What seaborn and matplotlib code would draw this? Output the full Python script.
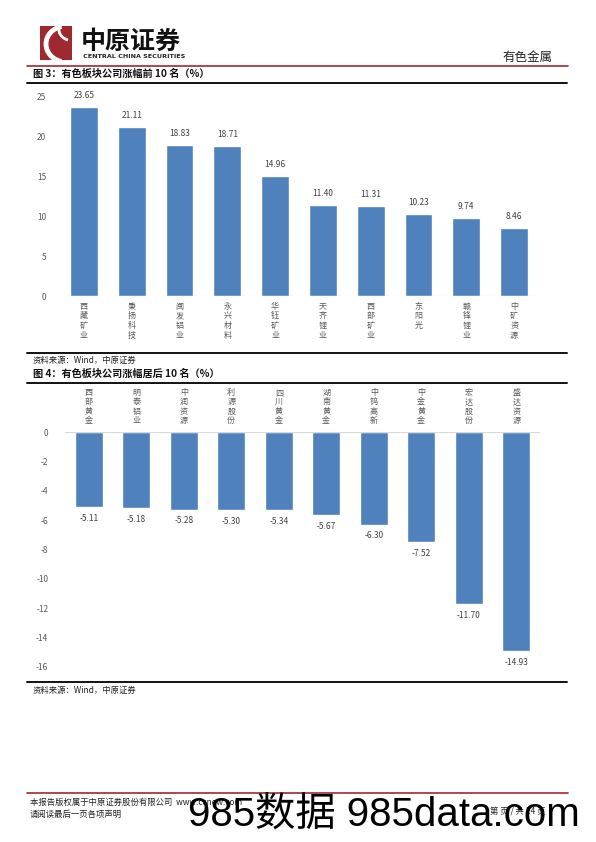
import matplotlib
matplotlib.use("Agg")
import matplotlib.pyplot as plt
import matplotlib.patches as mpatches
import seaborn as sns

sns.set_theme(style="white")
plt.rcParams["font.family"] = ["Noto Sans CJK SC", "DejaVu Sans"]

# ─────────────────────────────────────
# DATA
# ─────────────────────────────────────

top_names = ["西藏矿业", "秉扬科技", "闽发铝业", "永兴材料", "华钰矿业",
             "天齐锂业", "西部矿业", "东阳光", "赣锋锂业", "中矿资源"]
top_values = [23.65, 21.11, 18.83, 18.71, 14.96, 11.40, 11.31, 10.23, 9.74, 8.46]

bottom_names = ["西部黄金", "明泰铝业", "中润资源", "利源股份", "四川黄金",
                "湖南黄金", "中钨高新", "中金黄金", "宏达股份", "盛达资源"]
bottom_values = [-5.11, -5.18, -5.28, -5.30, -5.34, -5.67, -6.30, -7.52, -11.70, -14.93]

top_ticks = [0, 5, 10, 15, 20, 25]
bottom_ticks = [0, -2, -4, -6, -8, -10, -12, -14, -16]

BLUE = "#4F81BD"
RED = "#9E2A2F"
GRAY = "#595959"

W, H = 596, 842
fig = plt.figure(figsize=(W / 100, H / 100), dpi=100)


def rect(x0, y0, x1, y1):
    # pixel box (top-left origin) -> figure fraction
    return [x0 / W, 1 - y1 / H, (x1 - x0) / W, (y1 - y0) / H]


def fx(x):
    return x / W


def fy(y):
    return 1 - y / H


def hline(y, x0, x1, color, lw):
    fig.add_artist(plt.Line2D([fx(x0), fx(x1)], [fy(y), fy(y)], color=color, lw=lw))


# ─────────────────────────────────────
# Header
# ─────────────────────────────────────

fig.add_artist(mpatches.Rectangle((fx(40), fy(60)), fx(32), 34 / H, color=RED, lw=0))
fig.add_artist(mpatches.Arc((fx(66), fy(44)), 40 / W, 36 / H, theta1=110, theta2=250,
                            color="white", lw=3.5))
fig.add_artist(mpatches.Arc((fx(74), fy(30)), 30 / W, 22 / H, theta1=150, theta2=230,
                            color="white", lw=2))
fig.text(fx(81), fy(42), "中原证券", fontsize=18, fontweight="bold", color="#111111",
         va="center", ha="left")
fig.text(fx(83), fy(56), "CENTRAL CHINA SECURITIES", fontsize=4.6, fontweight="bold",
         color="#222222", va="center", ha="left", family=["DejaVu Sans"])
fig.text(fx(552), fy(57), "有色金属", fontsize=9, color="#222222", va="center", ha="right")
hline(66, 27, 568, RED, 1.2)

# ─────────────────────────────────────
# Chart 3 – top 10
# ─────────────────────────────────────

fig.text(fx(33), fy(74), "图 3：有色板块公司涨幅前 10 名（%）", fontsize=7.3,
         fontweight="bold", va="center", ha="left", color="#111111")
hline(83, 27, 567, "#111111", 1.4)

ax1 = fig.add_axes(rect(60, 96, 538, 296))
sns.barplot(x=top_names, y=top_values, color=BLUE, saturation=1, width=0.58, ax=ax1)
ax1.set_ylim(0, 25)
ax1.set_xlim(-0.5, 9.5)
ax1.set_yticks(top_ticks)
ax1.set_yticklabels([str(t) for t in top_ticks], fontsize=6, color=GRAY)
ax1.set_xticks(range(len(top_names)))
ax1.set_xticklabels(["\n".join(n) for n in top_names], fontsize=5.8, color=GRAY,
                    linespacing=1.1, va="top")
ax1.tick_params(axis="both", length=0, pad=4)
ax1.tick_params(axis="y", pad=10)
ax1.axhline(0, color="#D9D9D9", lw=0.8)
for s in ax1.spines.values():
    s.set_visible(False)
ax1.bar_label(ax1.containers[0], fmt="%.2f", padding=5, fontsize=6, color="#404040")
ax1.set_xlabel("")
ax1.set_ylabel("")

hline(353, 27, 567, "#111111", 1.4)
fig.text(fx(33), fy(360), "资料来源：Wind，中原证券", fontsize=6, va="center", ha="left",
         color="#222222")

# ─────────────────────────────────────
# Chart 4 – bottom 10
# ─────────────────────────────────────

fig.text(fx(33), fy(374), "图 4：有色板块公司涨幅居后 10 名（%）", fontsize=7.3,
         fontweight="bold", va="center", ha="left", color="#111111")
hline(383, 27, 567, "#111111", 1.4)

ax2 = fig.add_axes(rect(65, 432, 540, 667))
sns.barplot(x=bottom_names, y=bottom_values, color=BLUE, saturation=1, width=0.58, ax=ax2)
ax2.set_ylim(-16, 0)
ax2.set_xlim(-0.5, 9.5)
ax2.set_yticks(bottom_ticks)
ax2.set_yticklabels([str(t) for t in bottom_ticks], fontsize=6, color=GRAY)
ax2.xaxis.tick_top()
ax2.set_xticks(range(len(bottom_names)))
ax2.set_xticklabels(["\n".join(n) for n in bottom_names], fontsize=5.8, color=GRAY,
                    linespacing=1.05, va="bottom")
ax2.tick_params(axis="both", length=0, pad=5)
ax2.tick_params(axis="y", pad=12)
ax2.axhline(0, color="#D9D9D9", lw=0.8)
for s in ax2.spines.values():
    s.set_visible(False)
ax2.bar_label(ax2.containers[0], fmt="%.2f", padding=5, fontsize=6, color="#404040")
ax2.set_xlabel("")
ax2.set_ylabel("")

hline(682, 27, 567, "#111111", 1.4)
fig.text(fx(33), fy(690), "资料来源：Wind，中原证券", fontsize=6, va="center", ha="left",
         color="#222222")

# ─────────────────────────────────────
# Footer
# ─────────────────────────────────────

hline(793, 27, 568, RED, 1.2)
fig.text(fx(30), fy(802), "本报告版权属于中原证券股份有限公司  www.ccnew.com", fontsize=6,
         va="center", ha="left", color="#222222")
fig.text(fx(30), fy(814), "请阅读最后一页各项声明", fontsize=6, va="center", ha="left",
         color="#222222")
fig.text(fx(545), fy(812), "第 页 / 共 24 页", fontsize=6, va="center", ha="right",
         color="#222222")
fig.text(fx(188), fy(826), "985数据 985data.com", fontsize=29, va="baseline", ha="left",
         color="black", family=["Liberation Sans", "Noto Sans CJK SC"])

fig.savefig("out.png", dpi=100)
